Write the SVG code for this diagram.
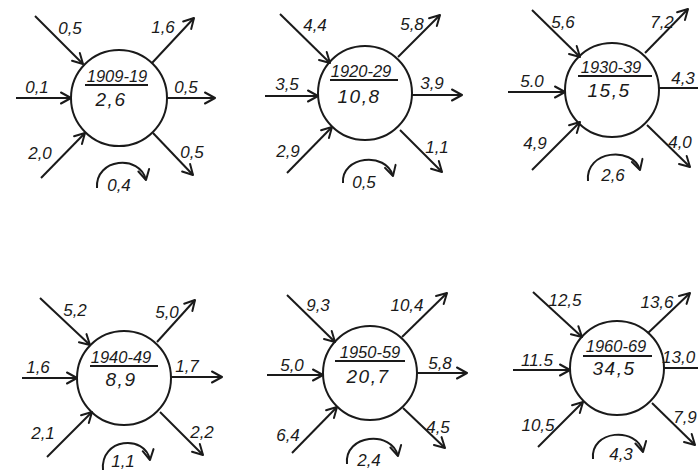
<svg xmlns="http://www.w3.org/2000/svg" width="698" height="471" viewBox="0 0 698 471">
<defs>
<marker id="ah" markerUnits="userSpaceOnUse" markerWidth="14" markerHeight="14" refX="11" refY="6" orient="auto" overflow="visible">
<path d="M1,0.5 L11,6 L1,11.5" fill="none" stroke="#1a1a1a" stroke-width="2" stroke-linecap="round" stroke-linejoin="round"/>
</marker>
<style>
.c{fill:none;stroke:#1a1a1a;stroke-width:2}
.a{fill:none;stroke:#1a1a1a;stroke-width:2;marker-end:url(#ah)}
.d{stroke:#1a1a1a;stroke-width:2}
text{font-family:"Liberation Sans","DejaVu Sans",sans-serif;font-style:italic;fill:#1a1a1a;text-anchor:middle}
.l{font-size:17px}
.y{font-size:16.5px}
.v{font-size:19px;letter-spacing:1.5px}
</style>
</defs>
<rect width="698" height="471" fill="#ffffff"/>

<g id="node-1909-19">
<circle class="c" cx="119" cy="98" r="48"/>
<text class="y" x="117" y="82">1909-19</text>
<line class="d" x1="85" y1="85" x2="148" y2="85"/>
<text class="v" x="111" y="106">2,6</text>
</g>
<g id="node-1920-29">
<circle class="c" cx="365" cy="93" r="47"/>
<text class="y" x="361" y="77">1920-29</text>
<line class="d" x1="330" y1="80" x2="398" y2="80"/>
<text class="v" x="359" y="103">10,8</text>
</g>
<g id="node-1930-39">
<circle class="c" cx="612" cy="90" r="47"/>
<text class="y" x="611" y="73">1930-39</text>
<line class="d" x1="578" y1="76" x2="652" y2="76"/>
<text class="v" x="609" y="97">15,5</text>
</g>
<g id="node-1940-49">
<circle class="c" cx="124" cy="378" r="47"/>
<text class="y" x="121" y="363">1940-49</text>
<line class="d" x1="90" y1="366" x2="158" y2="366"/>
<text class="v" x="121" y="386">8,9</text>
</g>
<g id="node-1950-59">
<circle class="c" cx="370" cy="373" r="47"/>
<text class="y" x="370" y="358">1950-59</text>
<line class="d" x1="335" y1="361" x2="405" y2="361"/>
<text class="v" x="368" y="383">20,7</text>
</g>
<g id="node-1960-69">
<circle class="c" cx="617" cy="368" r="47"/>
<text class="y" x="616" y="352">1960-69</text>
<line class="d" x1="583" y1="356" x2="652" y2="356"/>
<text class="v" x="614" y="375">34,5</text>
</g>

<g id="connectors">
<line class="a" x1="35" y1="16" x2="83" y2="64"/>
<line class="a" x1="16" y1="98" x2="71" y2="98"/>
<line class="a" x1="41" y1="178" x2="85" y2="133"/>
<line class="a" x1="152" y1="63" x2="194" y2="18"/>
<line class="a" x1="167" y1="98" x2="215" y2="98"/>
<line class="a" x1="153" y1="133" x2="193" y2="175"/>
<path class="a" d="M97,188 C95,158 140,154 146,180"/>

<line class="a" x1="280" y1="14" x2="330" y2="63"/>
<line class="a" x1="265" y1="96" x2="318" y2="96"/>
<line class="a" x1="287" y1="173" x2="332" y2="127"/>
<line class="a" x1="398" y1="57" x2="440" y2="15"/>
<line class="a" x1="412" y1="95" x2="462" y2="95"/>
<line class="a" x1="400" y1="130" x2="442" y2="172"/>
<path class="a" d="M343,183 C341,156 386,151 393,176"/>

<line class="a" x1="532" y1="10" x2="580" y2="57"/>
<line class="a" x1="508" y1="92" x2="565" y2="92"/>
<line class="a" x1="532" y1="170" x2="580" y2="122"/>
<line class="a" x1="645" y1="53" x2="688" y2="9"/>
<line class="a" x1="659" y1="88" x2="712" y2="88"/>
<line class="a" x1="647" y1="125" x2="690" y2="167"/>
<path class="a" d="M588,181 C585,150 633,146 640,170"/>

<line class="a" x1="40" y1="298" x2="90" y2="345"/>
<line class="a" x1="22" y1="378" x2="77" y2="378"/>
<line class="a" x1="47" y1="457" x2="92" y2="412"/>
<line class="a" x1="157" y1="342" x2="195" y2="300"/>
<line class="a" x1="171" y1="377" x2="222" y2="377"/>
<line class="a" x1="160" y1="412" x2="203" y2="455"/>
<path class="a" d="M103,470 C100,438 145,434 150,460"/>

<line class="a" x1="287" y1="295" x2="335" y2="342"/>
<line class="a" x1="267" y1="375" x2="323" y2="375"/>
<line class="a" x1="292" y1="453" x2="337" y2="407"/>
<line class="a" x1="402" y1="337" x2="447" y2="293"/>
<line class="a" x1="417" y1="373" x2="467" y2="373"/>
<line class="a" x1="403" y1="408" x2="445" y2="448"/>
<path class="a" d="M347,464 C344,434 392,430 398,456"/>

<line class="a" x1="533" y1="292" x2="582" y2="337"/>
<line class="a" x1="513" y1="370" x2="570" y2="370"/>
<line class="a" x1="538" y1="447" x2="583" y2="402"/>
<line class="a" x1="648" y1="333" x2="690" y2="293"/>
<line class="a" x1="664" y1="368" x2="712" y2="368"/>
<line class="a" x1="652" y1="403" x2="695" y2="445"/>
<path class="a" d="M593,459 C590,430 637,426 643,452"/>
</g>

<g id="labels">
<text class="l" x="70" y="34">0,5</text>
<text class="l" x="163" y="33">1,6</text>
<text class="l" x="37" y="93">0,1</text>
<text class="l" x="186" y="93">0,5</text>
<text class="l" x="40" y="159">2,0</text>
<text class="l" x="192" y="158">0,5</text>
<text class="l" x="119" y="191">0,4</text>

<text class="l" x="315" y="31">4,4</text>
<text class="l" x="412" y="30">5,8</text>
<text class="l" x="287" y="90">3,5</text>
<text class="l" x="432" y="89">3,9</text>
<text class="l" x="288" y="157">2,9</text>
<text class="l" x="437" y="153">1,1</text>
<text class="l" x="364" y="188">0,5</text>

<text class="l" x="563" y="28">5,6</text>
<text class="l" x="662" y="28">7,2</text>
<text class="l" x="532" y="87">5.0</text>
<text class="l" x="683" y="84">4,3</text>
<text class="l" x="535" y="149">4,9</text>
<text class="l" x="680" y="148">4,0</text>
<text class="l" x="613" y="181">2,6</text>

<text class="l" x="75" y="316">5,2</text>
<text class="l" x="167" y="318">5,0</text>
<text class="l" x="38" y="373">1,6</text>
<text class="l" x="187" y="372">1,7</text>
<text class="l" x="43" y="439">2,1</text>
<text class="l" x="202" y="438">2,2</text>
<text class="l" x="123" y="467">1,1</text>

<text class="l" x="318" y="311">9,3</text>
<text class="l" x="407" y="311">10,4</text>
<text class="l" x="292" y="371">5,0</text>
<text class="l" x="440" y="369">5,8</text>
<text class="l" x="288" y="441">6,4</text>
<text class="l" x="438" y="433">4,5</text>
<text class="l" x="369" y="466">2,4</text>

<text class="l" x="565" y="306">12,5</text>
<text class="l" x="657" y="308">13,6</text>
<text class="l" x="537" y="366">11.5</text>
<text class="l" x="662" y="363" style="text-anchor:start">13,0</text>
<text class="l" x="538" y="431">10,5</text>
<text class="l" x="685" y="423">7,9</text>
<text class="l" x="621" y="460">4,3</text>
</g>
</svg>
